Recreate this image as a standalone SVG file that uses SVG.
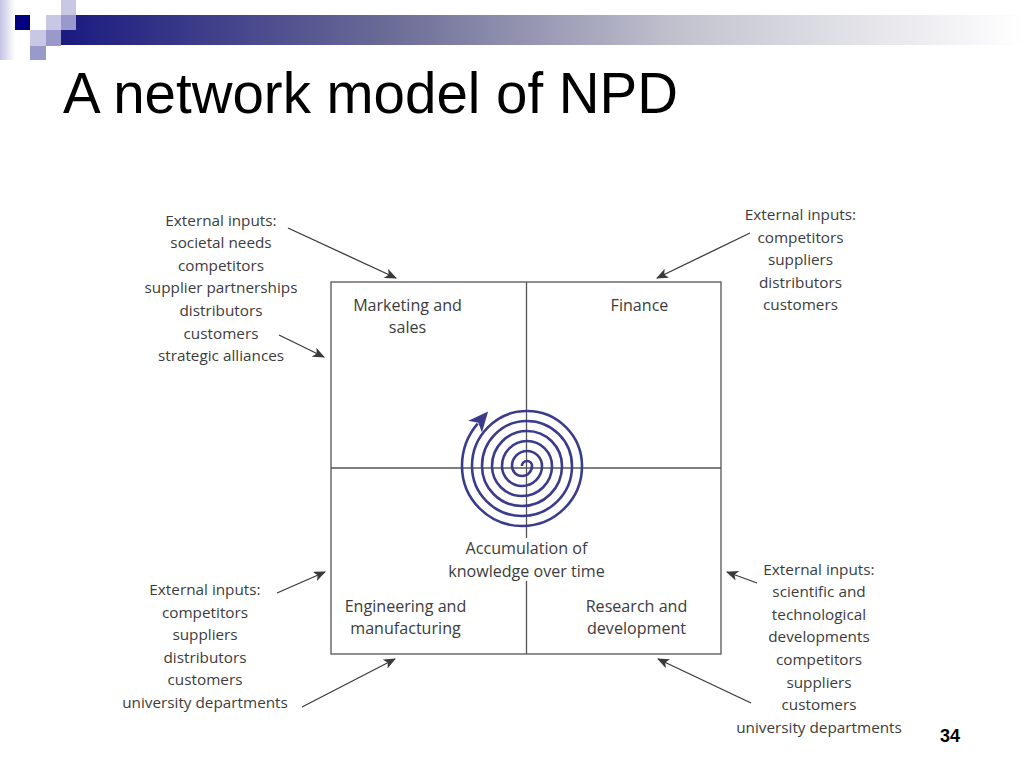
<svg xmlns="http://www.w3.org/2000/svg" width="1024" height="768" viewBox="0 0 1024 768">
<defs>
<linearGradient id="barGrad" gradientUnits="userSpaceOnUse" x1="61" y1="0" x2="1024" y2="0">
<stop offset="0" stop-color="#1a1a80"/>
<stop offset="0.35" stop-color="#6e6e98"/>
<stop offset="0.65" stop-color="#c4c4d0"/>
<stop offset="1" stop-color="#ffffff"/>
</linearGradient>
<linearGradient id="stripGrad" x1="0" y1="0" x2="1" y2="0">
<stop offset="0" stop-color="#c4c4e4"/>
<stop offset="1" stop-color="#ffffff"/>
</linearGradient>
<marker id="arrow" markerUnits="userSpaceOnUse" viewBox="0 0 12 10" markerWidth="12" markerHeight="10" refX="11" refY="5" orient="auto">
<path d="M0,0 L12,5 L0,10 L3,5 Z" fill="#3a3a3a"/>
</marker>
<marker id="spiralHead" markerUnits="userSpaceOnUse" viewBox="0 0 20 18" markerWidth="20" markerHeight="18" refX="4" refY="9" orient="auto">
<path d="M0,0 L20,9 L0,18 L5,9 Z" fill="#3b3b8c"/>
</marker>
<style>
.t{font-family:"Open Sans","Noto Sans","Liberation Sans",sans-serif;font-size:15.3px;fill:#3c3c3c;text-anchor:middle}
.q{font-size:16.1px}
.title{font-family:"Liberation Sans",Arial,sans-serif;font-size:56.5px;fill:#000}
.num{font-family:"Liberation Sans",Arial,sans-serif;font-size:18px;font-weight:bold;fill:#000}
.box{fill:none;stroke:#555;stroke-width:1.3}
.conn{stroke:#3a3a3a;stroke-width:1.3;fill:none;marker-end:url(#arrow)}
.lt{fill:#c8c8e4}
.md{fill:#9999cc}
</style>
</defs>
<rect width="1024" height="768" fill="#ffffff"/>

<g id="header">
<rect x="0" y="0" width="15" height="60" fill="url(#stripGrad)"/>
<rect x="61" y="15" width="963" height="30" fill="url(#barGrad)"/>
<rect x="15" y="15" width="15" height="15" fill="#000080"/>
<rect class="lt" x="46" y="15" width="15" height="15"/>
<rect class="md" x="61" y="15" width="15" height="15"/>
<rect class="lt" x="61" y="0" width="15" height="15"/>
<rect class="lt" x="30" y="30" width="16" height="16"/>
<rect class="md" x="46" y="30" width="15" height="16"/>
<rect class="md" x="30" y="46" width="16" height="14"/>
</g>

<text class="title" x="63" y="113" textLength="615" lengthAdjust="spacingAndGlyphs">A network model of NPD</text>

<g id="grid">
<rect class="box" x="331" y="282" width="390" height="372"/>
<line class="box" x1="331" y1="468" x2="721" y2="468"/>
<line class="box" x1="526.5" y1="282" x2="526.5" y2="538"/>
<line class="box" x1="526.5" y1="581" x2="526.5" y2="654"/>
</g>

<g id="spiral">
<path d="M 522 466 A 5 5 0 0 1 532 466 A 10 10 0 0 1 512 466 A 15 15 0 0 1 542 466 A 20 20 0 0 1 502 466 A 25 25 0 0 1 552 466 A 30 30 0 0 1 492 466 A 35 35 0 0 1 562 466 A 40 40 0 0 1 482 466 A 45 45 0 0 1 572 466 A 50 50 0 0 1 472 466 A 55 55 0 0 1 582 466 A 60 60 0 0 1 462 466 A 65 65 0 0 1 477.7 423.6" fill="none" stroke="#3b3b8c" stroke-width="2.6" marker-end="url(#spiralHead)"/>
</g>

<g id="marketing">
<text class="t q" x="407.5" y="310.5">Marketing and</text>
<text class="t q" x="407.5" y="332.5">sales</text>
</g>
<g id="finance">
<text class="t q" x="639.5" y="310.5">Finance</text>
</g>
<g id="engineering">
<text class="t q" x="405.5" y="612">Engineering and</text>
<text class="t q" x="405.5" y="634">manufacturing</text>
</g>
<g id="research">
<text class="t q" x="636.5" y="612">Research and</text>
<text class="t q" x="636.5" y="634">development</text>
</g>
<g id="knowledge">
<text class="t q" x="526.5" y="554">Accumulation of</text>
<text class="t q" x="526.5" y="576.5">knowledge over time</text>
</g>

<g id="inputs-marketing">
<text class="t" x="221" y="225.5">External inputs:</text>
<text class="t" x="221" y="248.1">societal needs</text>
<text class="t" x="221" y="270.7">competitors</text>
<text class="t" x="221" y="293.3">supplier partnerships</text>
<text class="t" x="221" y="315.9">distributors</text>
<text class="t" x="221" y="338.5">customers</text>
<text class="t" x="221" y="361.1">strategic alliances</text>
</g>
<g id="inputs-finance">
<text class="t" x="800.5" y="220">External inputs:</text>
<text class="t" x="800.5" y="242.6">competitors</text>
<text class="t" x="800.5" y="265.2">suppliers</text>
<text class="t" x="800.5" y="287.8">distributors</text>
<text class="t" x="800.5" y="310.4">customers</text>
</g>
<g id="inputs-engineering">
<text class="t" x="205" y="595">External inputs:</text>
<text class="t" x="205" y="617.6">competitors</text>
<text class="t" x="205" y="640.2">suppliers</text>
<text class="t" x="205" y="662.8">distributors</text>
<text class="t" x="205" y="685.4">customers</text>
<text class="t" x="205" y="708">university departments</text>
</g>
<g id="inputs-research">
<text class="t" x="819" y="574.5">External inputs:</text>
<text class="t" x="819" y="597.1">scientific and</text>
<text class="t" x="819" y="619.7">technological</text>
<text class="t" x="819" y="642.3">developments</text>
<text class="t" x="819" y="664.9">competitors</text>
<text class="t" x="819" y="687.5">suppliers</text>
<text class="t" x="819" y="710.1">customers</text>
<text class="t" x="819" y="732.7">university departments</text>
</g>

<g id="connectors">
<line class="conn" x1="288" y1="228" x2="396" y2="278"/>
<line class="conn" x1="279" y1="335" x2="324" y2="357"/>
<line class="conn" x1="750" y1="233" x2="657" y2="278"/>
<line class="conn" x1="277" y1="593" x2="325" y2="572"/>
<line class="conn" x1="302" y1="707" x2="395" y2="659"/>
<line class="conn" x1="757" y1="583" x2="727" y2="572"/>
<line class="conn" x1="751" y1="703" x2="658" y2="659"/>
</g>

<text class="num" x="940" y="742">34</text>
</svg>
